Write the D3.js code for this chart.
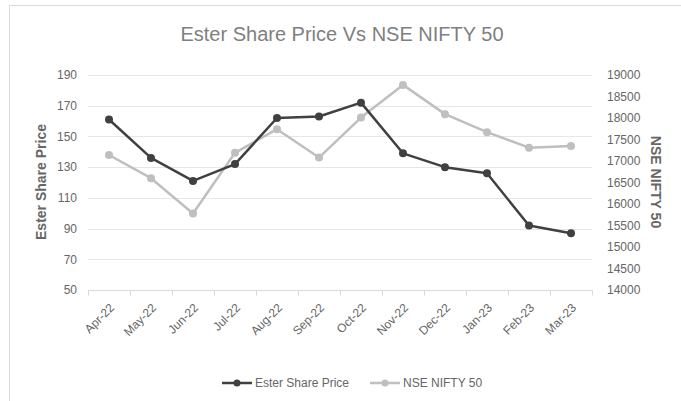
<!DOCTYPE html>
<html>
<head>
<meta charset="utf-8">
<script src="https://cdn.jsdelivr.net/npm/d3@7"></script>
<style>
  body { margin: 0; background: #fff; }
  svg { display: block; }
  .tick text { font-family: "Liberation Sans", Arial, sans-serif; font-size: 12px; fill: #666; }
</style>
</head>
<body>
<div id="chart"></div>
<script>
var months = ["Apr-22","May-22","Jun-22","Jul-22","Aug-22","Sep-22","Oct-22","Nov-22","Dec-22","Jan-23","Feb-23","Mar-23"];
var esterPrice = [161, 136, 121, 132, 162, 163, 172, 139, 130, 126, 92, 87];
var nifty = [17140, 16600, 15780, 17190, 17740, 17080, 18010, 18770, 18090, 17670, 17310, 17350];
var leftTicks = [50, 70, 90, 110, 130, 150, 170, 190];
var rightTicks = [14000, 14500, 15000, 15500, 16000, 16500, 17000, 17500, 18000, 18500, 19000];

var conf = {
  w: 681, h: 401,
  left: 88, right: 592, top: 75, bottom: 290,
  dark: "#404040", light: "#bfbfbf",
  font: "Liberation Sans, Arial, sans-serif"
}

var svg = d3.select("#chart").append("svg")
    .attr("width", conf.w).attr("height", conf.h)

// chart area border (top and left edges visible)
svg.append("path")
  .attr("d", "M9.5," + conf.h + "V5.5H" + conf.w)
  .attr("fill", "none").attr("stroke", "#d9d9d9")

svg.append("text")
  .attr("x", 342).attr("y", 41)
  .attr("text-anchor", "middle")
  .attr("font-family", conf.font)
  .attr("font-size", 20).attr("fill", "#7f7f7f")
  .text("Ester Share Price Vs NSE NIFTY 50")

var x = d3.scaleBand().domain(months).range([conf.left, conf.right])
var yL = d3.scaleLinear().domain([50, 190]).range([conf.bottom, conf.top])
var yR = d3.scaleLinear().domain([14000, 19000]).range([conf.bottom, conf.top])

// gridlines
svg.append("g")
  .selectAll("line")
  .data(leftTicks.slice(1))
  .enter().append("line")
  .attr("x1", conf.left).attr("x2", conf.right)
  .attr("y1", d => Math.round(yL(d)) + 0.5).attr("y2", d => Math.round(yL(d)) + 0.5)
  .attr("stroke", "#e6e6e6")

// left axis
var gL = svg.append("g").attr("transform", "translate(" + (conf.left - 11) + ",0)")
  .call(d3.axisLeft(yL).tickValues(leftTicks).tickSize(0).tickPadding(0))
gL.select(".domain").remove()

// right axis
var gR = svg.append("g").attr("transform", "translate(" + (conf.right + 15) + ",0)")
  .call(d3.axisRight(yR).tickValues(rightTicks).tickFormat(d3.format("d")).tickSize(0).tickPadding(0))
gR.select(".domain").remove()

// x axis with tick marks at category boundaries
var gX = svg.append("g").attr("transform", "translate(0," + (conf.bottom + 0.5) + ")")
gX.append("line").attr("x1", conf.left).attr("x2", conf.right).attr("stroke", "#d9d9d9")
gX.selectAll(".bnd")
  .data(months.concat(["end"]))
  .enter().append("line")
  .attr("class", "bnd")
  .attr("x1", (d, i) => Math.round(conf.left + i * x.step()) + 0.5)
  .attr("x2", (d, i) => Math.round(conf.left + i * x.step()) + 0.5)
  .attr("y1", 0).attr("y2", 5)
  .attr("stroke", "#d9d9d9")
gX.selectAll(".lbl")
  .data(months)
  .enter().append("text")
  .attr("class", "lbl")
  .attr("text-anchor", "end")
  .attr("font-family", conf.font)
  .attr("font-size", 12).attr("fill", "#666")
  .attr("transform", d => "translate(" + (x(d) + x.bandwidth() / 2 + 6) + ",18) rotate(-45)")
  .text(d => d)

// axis titles
svg.append("text")
  .attr("transform", "translate(46,182) rotate(-90)")
  .attr("text-anchor", "middle")
  .attr("font-family", conf.font)
  .attr("font-size", 14).attr("font-weight", "bold").attr("fill", "#666")
  .text("Ester Share Price")
svg.append("text")
  .attr("transform", "translate(651,182) rotate(90)")
  .attr("text-anchor", "middle")
  .attr("font-family", conf.font)
  .attr("font-size", 14).attr("font-weight", "bold").attr("fill", "#666")
  .text("NSE NIFTY 50")

var cx = d => x(d) + x.bandwidth() / 2

function drawSeries(values, yScale, color) {
  var pts = months.map((m, i) => [cx(m), yScale(values[i])])
  svg.append("path")
    .attr("d", d3.line()(pts))
    .attr("fill", "none").attr("stroke", color)
    .attr("stroke-width", 2.5).attr("stroke-linejoin", "round")
  svg.append("g").selectAll("circle")
    .data(pts)
    .enter().append("circle")
    .attr("cx", d => d[0]).attr("cy", d => d[1])
    .attr("r", 4).attr("fill", color)
}
drawSeries(nifty, yR, conf.light)
drawSeries(esterPrice, yL, conf.dark)

// legend
var legend = [
  {name: "Ester Share Price", color: conf.dark, x: 222},
  {name: "NSE NIFTY 50", color: conf.light, x: 370}
]
var lg = svg.append("g").selectAll("g")
  .data(legend)
  .enter().append("g")
  .attr("transform", d => "translate(" + d.x + ",383)")
lg.append("line").attr("x1", 0).attr("x2", 30)
  .attr("stroke", d => d.color).attr("stroke-width", 2.5)
lg.append("circle").attr("cx", 15).attr("r", 3.5).attr("fill", d => d.color)
lg.append("text")
  .attr("x", 33).attr("y", 4)
  .attr("font-family", conf.font)
  .attr("font-size", 12).attr("fill", "#666")
  .text(d => d.name)
</script>
</body>
</html>
